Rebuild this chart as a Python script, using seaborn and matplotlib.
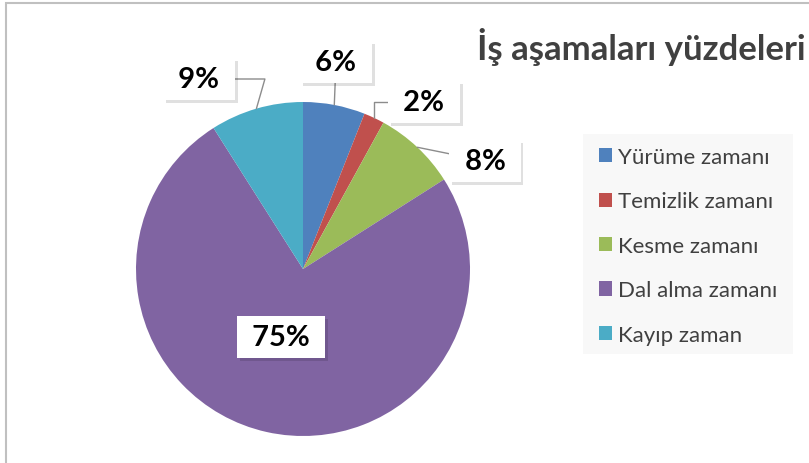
import matplotlib
matplotlib.use("Agg")
import matplotlib.pyplot as plt
import matplotlib.patheffects as pe
from matplotlib.patches import Patch, Rectangle
import seaborn as sns
import numpy as np

categories = ["Yürüme zamanı", "Temizlik zamanı", "Kesme zamanı", "Dal alma zamanı", "Kayıp zaman"]
values = [6, 2, 8, 75, 9]
colors = ["#4f81bd", "#c0504d", "#9bbb59", "#8064a2", "#4bacc6"]
title = "İş aşamaları yüzdeleri"

sns.set_theme(style="white")
plt.rcParams["font.family"] = ["Lato", "DejaVu Sans"]
palette = sns.color_palette(colors)

W, H = 809, 464
fig = plt.figure(figsize=(W / 100, H / 100), dpi=100)

# pie area: centre (303, 270) px, radius 167 px
cx, cy, r = 303, 270, 167
ax = fig.add_axes([(cx - r) / W, 1 - (cy + r) / H, 2 * r / W, 2 * r / H])
wedges, _ = ax.pie(values, colors=palette, startangle=90, counterclock=False,
                   wedgeprops=dict(linewidth=0))
ax.set_xlim(-1, 1)
ax.set_ylim(-1, 1)
ax.set_aspect("equal")


def px2data(px, py):
    return (px - cx) / r, (cy - py) / r


# label box centres (pixels) and leader styles
label_pos = [(336, 63), (424, 103), (485, 162), (281, 338), (199, 80)]
conn = ["arc3", "angle,angleA=0,angleB=90,rad=0", "arc3", None, "angle,angleA=0,angleB=74,rad=0"]

total = sum(values)
start = 90.0
for i, v in enumerate(values):
    mid = start - v / total * 360 / 2
    start -= v / total * 360
    ang = np.deg2rad(mid)
    xy = (np.cos(ang), np.sin(ang))
    tx, ty = px2data(*label_pos[i])
    arrow = None
    if conn[i] is not None:
        arrow = dict(arrowstyle="-", color="#8c8c8c", lw=1.0, connectionstyle=conn[i],
                     shrinkA=0, shrinkB=0)
    t = ax.annotate(f" {v}% ", xy=xy, xytext=(tx, ty), ha="center", va="center",
                    fontsize=21, fontweight="bold", color="black",
                    bbox=dict(boxstyle="square,pad=0.28", fc="white", ec="none"),
                    arrowprops=arrow, annotation_clip=False, zorder=5)
    t.get_bbox_patch().set_path_effects([
        pe.withSimplePatchShadow(offset=(2, -2), shadow_rgbFace="#000000", alpha=0.12),
        pe.Normal()])

fig.text(477 / W, 1 - 47 / H, title, fontsize=25, fontweight="bold", color="#404040",
         ha="left", va="center")

# legend
fig.add_artist(Rectangle((583 / W, 1 - 355 / H), 210 / W, 220 / H, transform=fig.transFigure,
                         facecolor="#f8f8f8", edgecolor="none", zorder=0))
handles = [Patch(facecolor=c, edgecolor="none") for c in palette]
fig.legend(handles, categories, loc="upper left", bbox_to_anchor=(599 / W, 1 - 148 / H),
           frameon=False, fontsize=16, labelcolor="#404040", borderpad=0, borderaxespad=0,
           handlelength=0.6, handleheight=0.6, handletextpad=0.25, labelspacing=1.1)

# chart frame (left and top edges visible)
fig.add_artist(Rectangle((6 / W, -0.2), 2, 1.2 - 4 / H, transform=fig.transFigure,
                         fill=False, edgecolor="#c0c0c0", lw=1.5))

fig.savefig("out.png", dpi=100)
